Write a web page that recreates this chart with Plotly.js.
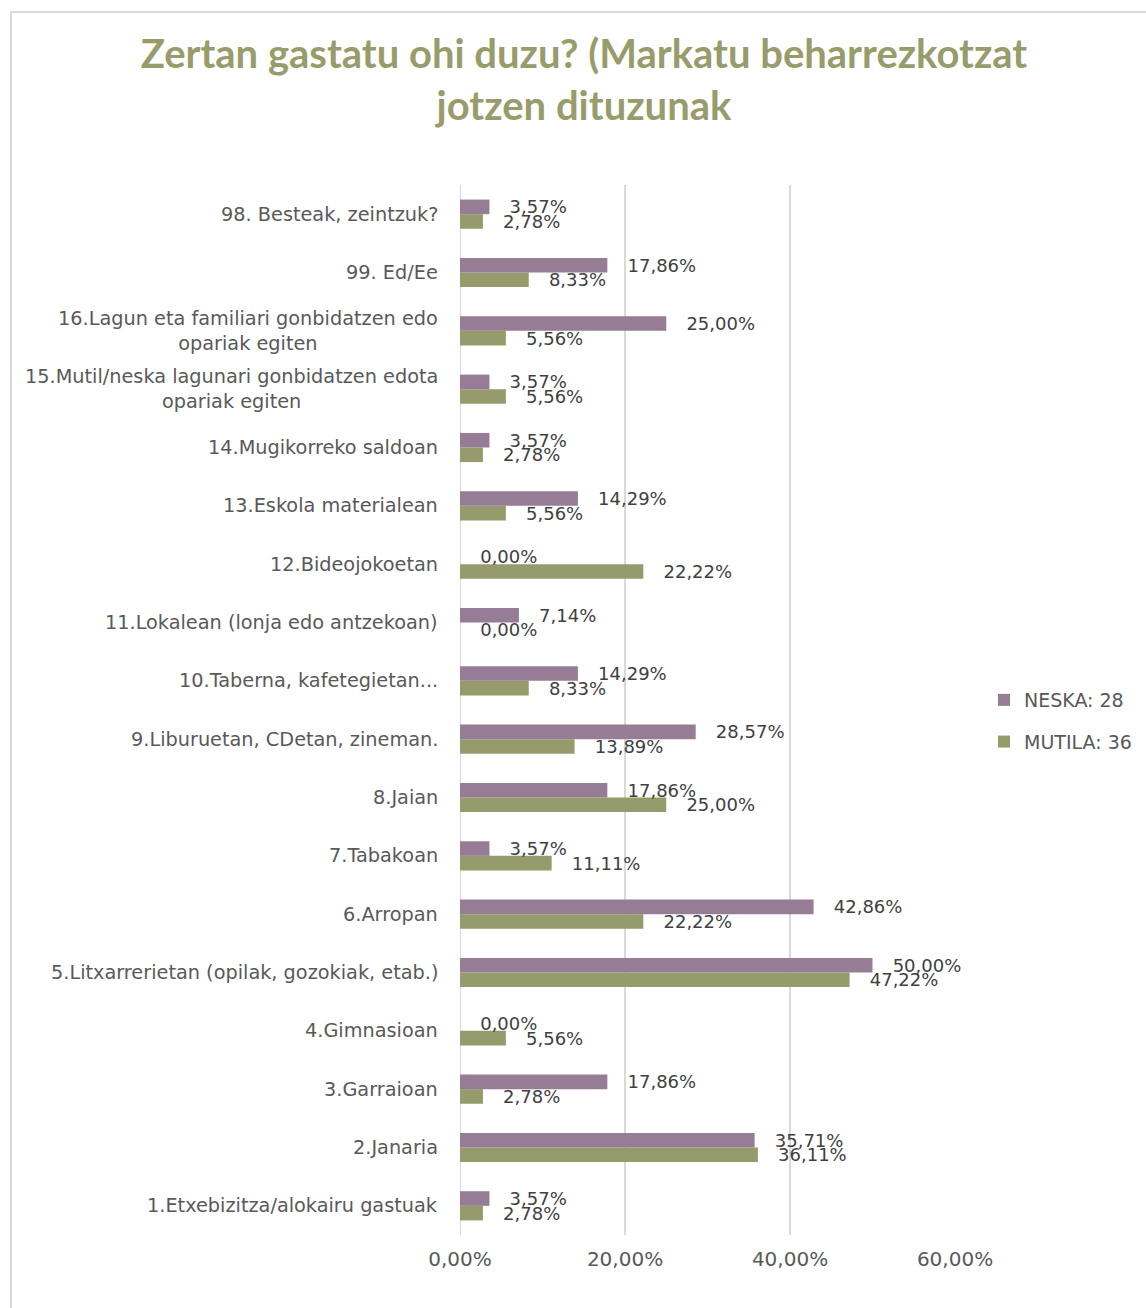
<!DOCTYPE html>
<html>
<head>
<meta charset="utf-8">
<script src="https://cdn.plot.ly/plotly-3.0.1.min.js"></script>
<style>
  html, body { margin: 0; padding: 0; background: #ffffff; }
  #chart { width: 1146px; height: 1308px; }
</style>
</head>
<body>
<div id="chart"></div>
<script>
// Categories, bottom to top
const categories = [
  "1.Etxebizitza/alokairu gastuak",
  "2.Janaria",
  "3.Garraioan",
  "4.Gimnasioan",
  "5.Litxarrerietan (opilak, gozokiak, etab.)",
  "6.Arropan",
  "7.Tabakoan",
  "8.Jaian",
  "9.Liburuetan, CDetan, zineman.",
  "10.Taberna, kafetegietan...",
  "11.Lokalean (lonja edo antzekoan)",
  "12.Bideojokoetan",
  "13.Eskola materialean",
  "14.Mugikorreko saldoan",
  "15.Mutil/neska lagunari gonbidatzen edota<br>opariak egiten",
  "16.Lagun eta familiari gonbidatzen edo<br>opariak egiten",
  "99. Ed/Ee",
  "98. Besteak, zeintzuk?"
];

const neska = [0.0357, 0.3571, 0.1786, 0.0000, 0.5000, 0.4286, 0.0357, 0.1786, 0.2857,
               0.1429, 0.0714, 0.0000, 0.1429, 0.0357, 0.0357, 0.2500, 0.1786, 0.0357];
const mutila = [0.0278, 0.3611, 0.0278, 0.0556, 0.4722, 0.2222, 0.1111, 0.2500, 0.1389,
                0.0833, 0.0000, 0.2222, 0.0556, 0.0278, 0.0556, 0.0556, 0.0833, 0.0278];

const seriesNames = ["MUTILA: 36", "NESKA: 28"];
const xTickVals = [0, 0.2, 0.4, 0.6];

const PURPLE = "#977c95";
const GREEN = "#959b6b";
const PAD = "\u00a0\u00a0\u00a0";

const FONT = "'DejaVu Sans', 'Open Sans', sans-serif";
const TFONT = "Lato, 'Open Sans', sans-serif";

const common = {
  type: "bar",
  orientation: "h",
  y: categories,
  textposition: "outside",
  texttemplate: PAD + "%{x:.2%}",
  constraintext: "none",
  cliponaxis: false,
  textfont: { family: FONT, size: 18, color: "#404040" },
  hoverinfo: "x+y"
};

const traces = [
  Object.assign({}, common, {
    name: seriesNames[0], x: mutila,
    marker: { color: GREEN, line: { width: 0 } },
    legendgroup: "m", legendrank: 2
  }),
  Object.assign({}, common, {
    name: seriesNames[1], x: neska,
    marker: { color: PURPLE, line: { width: 0 } },
    legendgroup: "n", legendrank: 1
  })
];

const plotL = 460, plotR = 955, plotT = 185, plotB = 1235;
const pw = plotR - plotL, ph = plotB - plotT;

// y-axis category labels as centered multi-line annotations
const annotations = categories.map(c => ({
  text: c,
  xref: "paper", yref: "y",
  x: -20 / pw, y: c,
  xanchor: "right", yanchor: "middle",
  align: "center",
  showarrow: false,
  font: { family: FONT, size: 19.3, color: "#595959" }
}));

const layout = {
  width: 1146,
  height: 1308,
  paper_bgcolor: "#ffffff",
  plot_bgcolor: "#ffffff",
  separators: ", ",
  margin: { l: plotL, r: 1146 - plotR, t: plotT, b: 1308 - plotB, pad: 0, autoexpand: false },
  title: {
    text: "Zertan gastatu ohi duzu? (Markatu beharrezkotzat<br>jotzen dituzunak",
    font: { family: TFONT, size: 40, color: "#989c6b", weight: 700 },
    xref: "container", yref: "container",
    x: 584 / 1146, xanchor: "center",
    y: 1 - 68 / 1308, yanchor: "top"
  },
  barmode: "group",
  bargap: 0.5,
  bargroupgap: 0,
  showlegend: true,
  legend: {
    traceorder: "grouped",
    xref: "container", yref: "container",
    x: 984 / 1146, xanchor: "left",
    y: 1 - 721 / 1308, yanchor: "middle",
    font: { family: FONT, size: 19, color: "#595959" },
    tracegroupgap: 14,
    bgcolor: "rgba(0,0,0,0)"
  },
  xaxis: {
    range: [0, 0.6],
    tickvals: xTickVals,
    tickformat: ".2%",
    showgrid: true,
    gridcolor: "#d9d9d9",
    gridwidth: 2,
    zeroline: false,
    showline: false,
    ticks: "",
    ticklabelstandoff: 10,
    tickfont: { family: FONT, size: 20, color: "#595959" },
    fixedrange: true
  },
  yaxis: {
    type: "category",
    showticklabels: false,
    showgrid: false,
    zeroline: false,
    showline: false,
    ticks: "",
    fixedrange: true
  },
  annotations: annotations,
  shapes: [
    {
      type: "line", xref: "x", yref: "paper",
      x0: 0, x1: 0, y0: 0, y1: 1,
      line: { color: "#d9d9d9", width: 2 }, layer: "below"
    },
    {
      type: "rect", xref: "paper", yref: "paper",
      x0: (11 - plotL) / pw, x1: (1160 - plotL) / pw,
      y0: (plotB - 1320) / ph, y1: (plotB - 12) / ph,
      line: { color: "#d9d9d9", width: 2 }, fillcolor: "rgba(0,0,0,0)", layer: "below"
    }
  ]
};

Plotly.newPlot("chart", traces, layout, { displayModeBar: false, staticPlot: true });
</script>
</body>
</html>
